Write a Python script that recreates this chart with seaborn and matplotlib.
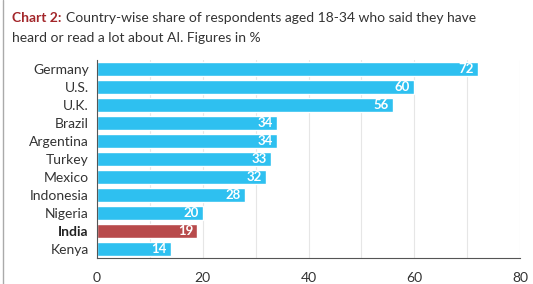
import numpy as np
import pandas as pd
import matplotlib.pyplot as plt
import seaborn as sns
from matplotlib.lines import Line2D

countries = ["Germany", "U.S.", "U.K.", "Brazil", "Argentina", "Turkey",
             "Mexico", "Indonesia", "Nigeria", "India", "Kenya"]
shares = [72, 60, 56, 34, 34, 33, 32, 28, 20, 19, 14]
x_ticks = [0, 20, 40, 60, 80]

sns.set_style("white")
plt.rcParams['font.family'] = ['Lato', 'DejaVu Sans']

df = pd.DataFrame({"country": countries, "share": shares})
palette = {c: ("#b84a4b" if c == "India" else "#2ec0f0") for c in countries}

fig = plt.figure(figsize=(5.33, 2.84), dpi=100)
ax = fig.add_axes([97 / 533, 1 - 258 / 284, 423 / 533, 198 / 284])
sns.barplot(data=df, y="country", x="share", hue="country", palette=palette,
            order=countries, legend=False, width=0.8, saturation=1, ax=ax)

ax.set_xlim(0, 80)
ax.set_xticks(np.arange(0, 81, 10), minor=False)
ax.set_xticklabels([str(t) if t in x_ticks else "" for t in range(0, 81, 10)])
ax.grid(axis="x", color="#e6e6e6", linewidth=0.8)
ax.set_axisbelow(True)
ax.set_xlabel("")
ax.set_ylabel("")
for s in ["top", "right"]:
    ax.spines[s].set_visible(False)
ax.spines["left"].set_color("#555555")
ax.spines["bottom"].set_color("#555555")
ax.spines["left"].set_linewidth(0.8)
ax.spines["bottom"].set_linewidth(0.8)
ax.tick_params(axis="both", length=4, color="#555555", width=0.8,
               labelsize=10, labelcolor="#333333", pad=2)
ax.tick_params(axis="x", pad=6)
ax.set_ylim(10.5, -0.5)

for lbl in ax.get_yticklabels():
    if lbl.get_text() == "India":
        lbl.set_fontweight("bold")
        lbl.set_color("#222222")

for i, v in enumerate(shares):
    ax.text(v - 0.8, i, str(v), ha="right", va="center", color="white",
            fontsize=9.5, fontweight="bold")

fig.text(12 / 533, 1 - 18 / 284, "Chart 2:", color="#a3262a", fontsize=10,
         fontweight="bold", va="center")
fig.text(66 / 533, 1 - 18 / 284,
         "Country-wise share of respondents aged 18-34 who said they have",
         color="#333333", fontsize=10, va="center")
fig.text(12 / 533, 1 - 38 / 284, "heard or read a lot about AI. Figures in %",
         color="#333333", fontsize=10, va="center")

fig.add_artist(Line2D([3 / 533, 3 / 533], [0, 1], color="#aaaaaa",
                      linewidth=1, transform=fig.transFigure))

fig.savefig("out.png", dpi=100)
